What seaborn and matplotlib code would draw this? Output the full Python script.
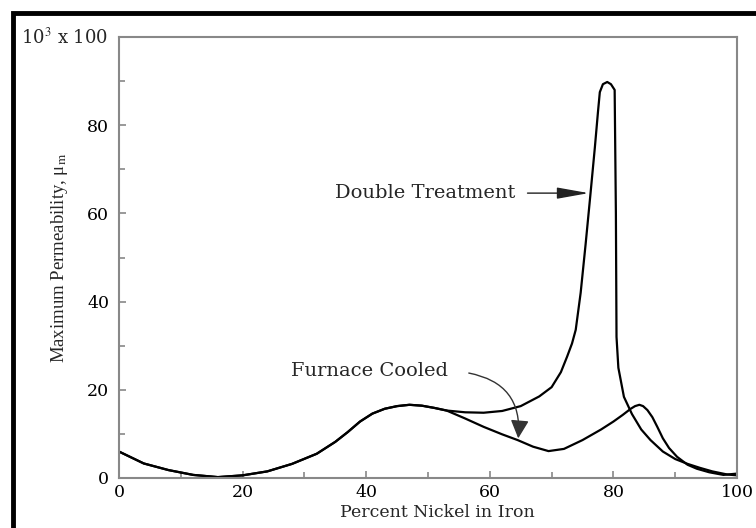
import numpy as np
import pandas as pd
import matplotlib
matplotlib.use("Agg")
import matplotlib.pyplot as plt
from matplotlib.patches import Rectangle
import seaborn as sns

# common part of both curves (0 - 53 % Ni)
shared_x = [0, 4, 8, 12, 16, 20, 24, 28, 32, 35, 37, 39, 41, 43, 45, 47, 49, 51, 53]
shared_y = [6.0, 3.3, 1.8, 0.7, 0.2, 0.6, 1.5, 3.2, 5.5, 8.2, 10.4, 12.8, 14.6, 15.7, 16.3, 16.6, 16.4, 15.9, 15.3]

# double treatment branch
double_x = [56, 59, 62, 65, 68, 70, 71.5, 72.5, 73.3, 73.9, 74.7, 75.5, 76.3, 77, 77.5, 77.8,
            78.3, 79.0, 79.6, 80.2, 80.4, 80.5, 80.8, 81.7, 83, 84.5, 86, 88, 90, 92, 94, 96, 98.4, 100]
double_y = [14.9, 14.8, 15.2, 16.3, 18.5, 20.6, 24.0, 27.5, 30.5, 33.6, 42, 53, 64.6, 75, 83, 87.5,
            89.3, 89.8, 89.3, 88, 60, 32, 25, 18.4, 14.5, 11.0, 8.6, 6.0, 4.3, 3.2, 2.3, 1.5, 0.8, 0.6]

# furnace cooled branch
furnace_x = [56, 59, 62, 64.5, 67, 69.5, 72, 75, 78, 80, 81.5, 82.8, 83.5, 84.2, 84.8, 85.5, 86.3,
             87.1, 88, 89, 90.3, 92, 93.5, 95.5, 97.8, 100]
furnace_y = [13.5, 11.6, 9.9, 8.6, 7.1, 6.1, 6.6, 8.6, 11.0, 12.8, 14.3, 15.7, 16.3, 16.6, 16.3, 15.4, 13.8,
             11.6, 9.0, 6.8, 4.8, 3.0, 2.1, 1.3, 0.7, 1.0]

x_ticks = [0, 20, 40, 60, 80, 100]
y_ticks = [0, 20, 40, 60, 80]

df = pd.concat([
    pd.DataFrame({"Ni": shared_x + double_x, "mu": shared_y + double_y, "curve": "Double Treatment"}),
    pd.DataFrame({"Ni": shared_x + furnace_x, "mu": shared_y + furnace_y, "curve": "Furnace Cooled"}),
])

sns.set_style("ticks")
plt.rcParams["font.family"] = ["DejaVu Serif"]
plt.rcParams["mathtext.fontset"] = "stix"

fig = plt.figure(figsize=(7.56, 5.28), dpi=100)
ax = fig.add_axes([0.1574, 0.0947, 0.8175, 0.8352])

sns.lineplot(data=df, x="Ni", y="mu", units="curve", estimator=None, sort=False,
             color="black", linewidth=1.6, ax=ax, legend=False)

ax.set_xlim(0, 100)
ax.set_ylim(0, 100)
ax.set_xticks(x_ticks)
ax.set_xticks(range(10, 100, 20), minor=True)
ax.set_yticks(y_ticks)
ax.set_yticks([10, 30, 50, 70, 90], minor=True)
ax.tick_params(axis="both", which="both", direction="in", color="#888888", width=1.2,
               labelsize=12.5, labelcolor="black")
ax.tick_params(axis="both", which="major", length=5)
ax.tick_params(axis="both", which="minor", length=4)
ax.tick_params(axis="x", pad=4)
ax.tick_params(axis="y", pad=7)
for sp in ax.spines.values():
    sp.set_color("#888888")
    sp.set_linewidth(1.5)

ax.set_xlabel("Percent Nickel in Iron", fontsize=12.5)
ax.xaxis.set_label_coords(0.515, -0.058)
ax.set_ylabel("Maximum Permeability, μ$_\\mathrm{m}$", fontsize=13.5, family="Liberation Serif")
ax.yaxis.set_label_coords(-0.08, 0.5)

ax.text(-0.017, 1.0, "10$^3$ x 100", transform=ax.transAxes, ha="right", va="center", fontsize=13)

# annotations
ax.text(64.2, 64.6, "Double Treatment", ha="right", va="center", fontsize=14)
ax.annotate("", xy=(76.0, 64.6), xytext=(66.1, 64.6),
            arrowprops=dict(arrowstyle="-|>,head_length=1.4,head_width=0.25", color="#222222",
                            lw=1.0, shrinkA=0, shrinkB=0, mutation_scale=14))

ax.text(53.3, 24.3, "Furnace Cooled", ha="right", va="center", fontsize=14)
ax.annotate("", xy=(64.6, 9.0), xytext=(56.6, 23.8),
            arrowprops=dict(arrowstyle="-|>,head_length=0.8,head_width=0.4", color="#333333",
                            lw=1.0, shrinkA=0, shrinkB=0, mutation_scale=14,
                            connectionstyle="arc3,rad=-0.45"))

# outer frame of the picture
fig.patches.append(Rectangle((13 / 756, -0.1), 1.2, 1.1 - 13 / 528, transform=fig.transFigure,
                             fill=False, edgecolor="black", linewidth=3.5, figure=fig))

fig.savefig("out.png", dpi=100)
